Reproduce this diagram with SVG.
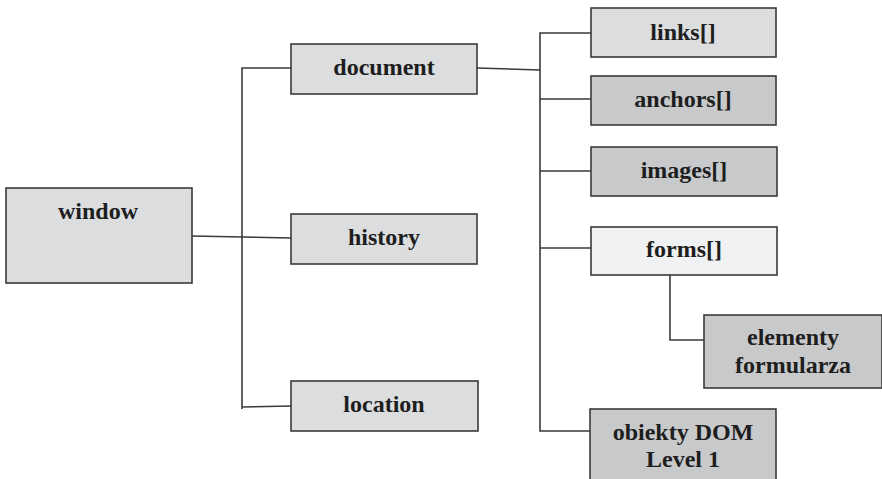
<svg xmlns="http://www.w3.org/2000/svg" width="882" height="479" viewBox="0 0 882 479">
<style>
.box{stroke:#3a3a3a;stroke-width:1.6}
.l{fill:#dcdddf}
.d{fill:#c8c9cb}
.w{fill:#f0f1f2}
text{font-family:'Liberation Serif','DejaVu Serif',serif;font-weight:bold;font-size:24px;fill:#1e1e1e;text-anchor:middle}
.c{fill:none;stroke:#3a3a3a;stroke-width:1.6}
</style>
<rect width="882" height="479" fill="#ffffff"/>
<g id="connectors">
<path class="c" d="M192 236 L291 238"/>
<path class="c" d="M242 409 L242 68 L291 68"/>
<path class="c" d="M242 407 L291 406"/>
<path class="c" d="M477 68 L540 70"/>
<path class="c" d="M591 33 L540 33 L540 431 L590 431"/>
<path class="c" d="M540 99 L591 99"/>
<path class="c" d="M540 171 L591 171"/>
<path class="c" d="M540 248 L591 248"/>
<path class="c" d="M670 275 L670 340 L704 340"/>
</g>
<g id="window"><rect class="box l" x="6" y="188" width="186" height="95"/><text x="98" y="219">window</text></g>
<g id="document"><rect class="box l" x="291" y="44" width="186" height="50"/><text x="384" y="75">document</text></g>
<g id="history"><rect class="box l" x="291" y="214" width="186" height="50"/><text x="384" y="245">history</text></g>
<g id="location"><rect class="box l" x="291" y="381" width="187" height="50"/><text x="384" y="412">location</text></g>
<g id="links"><rect class="box l" x="591" y="8" width="185" height="49"/><text x="683" y="40">links[]</text></g>
<g id="anchors"><rect class="box d" x="591" y="76" width="185" height="49"/><text x="683" y="107">anchors[]</text></g>
<g id="images"><rect class="box d" x="591" y="147" width="186" height="49"/><text x="684" y="178">images[]</text></g>
<g id="forms"><rect class="box w" x="591" y="227" width="186" height="48"/><text x="684" y="257">forms[]</text></g>
<g id="elementy"><rect class="box d" x="704" y="315" width="178" height="73"/><text x="793" y="345">elementy</text><text x="793" y="373">formularza</text></g>
<g id="obiekty"><rect class="box d" x="590" y="409" width="186" height="80"/><text x="683" y="440">obiekty DOM</text><text x="683" y="467">Level 1</text></g>
</svg>
